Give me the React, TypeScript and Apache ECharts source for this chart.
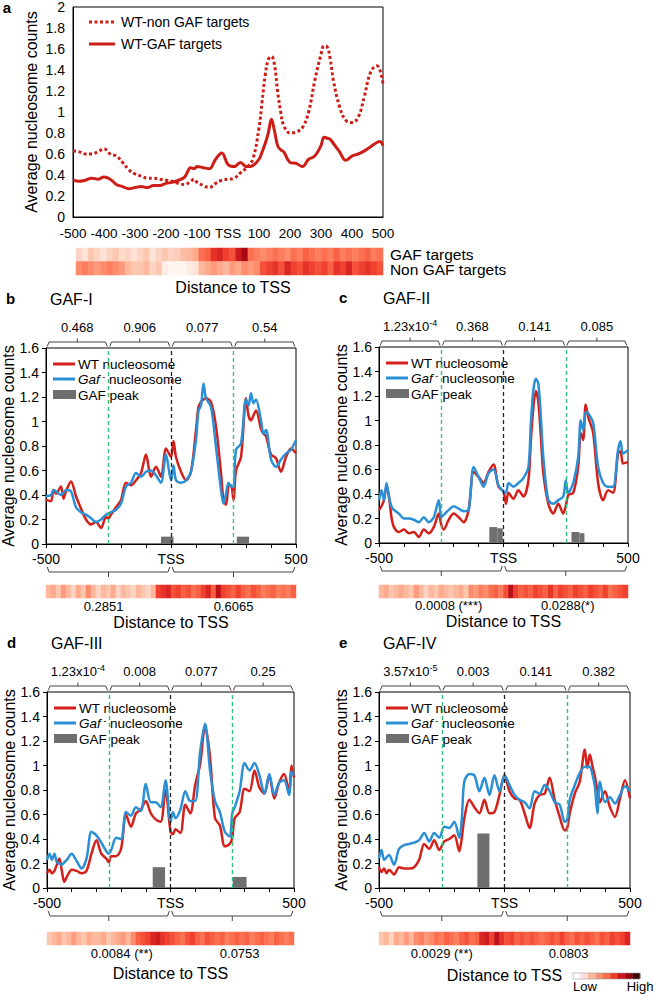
import React, { useEffect, useRef } from "react";
import * as echarts from "echarts";

// ---------- Panel a ----------
const aX = [-500,-480,-460,-440,-420,-400,-380,-360,-340,-320,-300,-280,-260,-240,-220,-200,-180,-160,-140,-120,-110,-100,-80,-60,-40,-20,0,20,40,60,80,100,110,120,130,140,150,160,170,180,200,220,240,260,280,300,310,320,330,340,360,380,400,420,440,460,480,490,500];
const aNonGaf = [0.63,0.62,0.60,0.60,0.62,0.65,0.60,0.58,0.52,0.45,0.41,0.39,0.37,0.37,0.36,0.35,0.34,0.32,0.31,0.34,0.36,0.33,0.30,0.28,0.32,0.35,0.36,0.37,0.42,0.47,0.55,0.85,1.10,1.35,1.50,1.53,1.45,1.20,1.00,0.87,0.80,0.81,0.85,1.00,1.30,1.55,1.63,1.62,1.50,1.30,1.05,0.92,0.90,0.95,1.15,1.38,1.44,1.40,1.27];
const aGaf = [0.35,0.34,0.35,0.37,0.36,0.38,0.36,0.31,0.29,0.27,0.28,0.29,0.28,0.30,0.30,0.32,0.33,0.35,0.38,0.47,0.46,0.48,0.47,0.46,0.55,0.61,0.50,0.48,0.52,0.48,0.49,0.55,0.62,0.70,0.80,0.93,0.82,0.68,0.64,0.62,0.52,0.51,0.48,0.55,0.58,0.68,0.76,0.75,0.74,0.70,0.62,0.54,0.58,0.60,0.63,0.67,0.71,0.72,0.68];
const heatAGaf = [0.2,0.15,0.25,0.2,0.15,0.2,0.25,0.18,0.2,0.15,0.2,0.25,0.15,0.2,0.25,0.2,0.22,0.28,0.3,0.35,0.55,0.6,0.75,0.8,0.7,0.65,0.85,0.95,0.55,0.5,0.45,0.5,0.55,0.5,0.45,0.55,0.5,0.6,0.55,0.5,0.55,0.5,0.6,0.5,0.55,0.5,0.55,0.6,0.5,0.55];
const heatANon = [0.45,0.5,0.45,0.4,0.45,0.5,0.45,0.4,0.3,0.25,0.25,0.3,0.2,0.25,0.1,0.05,0.05,0.05,0.1,0.15,0.3,0.35,0.4,0.35,0.3,0.4,0.35,0.45,0.4,0.45,0.65,0.7,0.75,0.65,0.8,0.7,0.65,0.75,0.7,0.65,0.7,0.6,0.75,0.7,0.8,0.65,0.7,0.75,0.7,0.65];
const aXTicks = ["-500","-400","-300","-200","-100","TSS","100","200","300","400","500"];

// ---------- Panel b (GAF-I) ----------
const bX = [-500,-480,-470,-460,-440,-430,-420,-400,-380,-360,-340,-320,-300,-280,-260,-250,-240,-220,-200,-180,-160,-140,-120,-100,-80,-60,-40,-20,0,10,20,40,60,80,100,110,120,130,140,160,180,200,210,220,230,240,250,260,280,300,310,320,330,340,360,370,380,400,420,440,460,480,500];
const bWT = [0.36,0.35,0.44,0.41,0.47,0.37,0.43,0.51,0.39,0.29,0.20,0.16,0.18,0.13,0.22,0.21,0.24,0.30,0.36,0.50,0.48,0.52,0.58,0.73,0.55,0.63,0.55,0.78,0.71,0.84,0.71,0.59,0.52,0.59,0.93,1.12,1.16,1.18,1.19,1.16,0.96,0.58,0.36,0.32,0.47,0.48,0.36,0.60,0.71,1.19,1.05,1.01,1.05,1.09,0.94,0.90,0.88,0.73,0.70,0.59,0.71,0.78,0.74];
const bGaf = [0.39,0.40,0.44,0.43,0.40,0.42,0.44,0.43,0.30,0.26,0.24,0.21,0.18,0.20,0.24,0.25,0.26,0.28,0.33,0.47,0.50,0.58,0.55,0.59,0.60,0.56,0.50,0.73,0.52,0.64,0.52,0.50,0.52,0.59,0.85,1.09,1.13,1.31,1.19,1.12,0.79,0.44,0.33,0.41,0.50,0.47,0.47,0.77,0.82,1.18,1.13,1.23,1.15,1.18,1.01,0.90,0.93,0.69,0.63,0.69,0.74,0.77,0.85];
const bPeaks = [[-40,10,0.06],[263,312,0.06]];
const bTopP = [["0.468"],["0.906"],["0.077"],["0.54"]];
const bBotP = ["0.2851","0.6065"];
const bBotPX = [-270,250];
const heatB = [0.3,0.35,0.25,0.4,0.3,0.2,0.35,0.25,0.45,0.3,0.2,0.3,0.25,0.35,0.2,0.3,0.25,0.2,0.3,0.25,0.2,0.3,0.7,0.75,0.8,0.65,0.7,0.6,0.65,0.55,0.6,0.7,0.8,0.6,0.9,0.7,0.65,0.6,0.7,0.6,0.55,0.65,0.6,0.5,0.55,0.6,0.5,0.55,0.5,0.6];

// ---------- Panel c (GAF-II) ----------
const cX = [-500,-490,-480,-470,-460,-450,-440,-420,-400,-380,-360,-340,-320,-300,-280,-260,-250,-240,-220,-200,-180,-160,-140,-120,-100,-80,-60,-40,-20,0,10,20,40,60,80,100,110,120,130,140,150,160,180,200,220,240,250,260,280,300,310,320,330,340,360,380,400,420,440,460,470,480,500];
const cWT = [0.27,0.30,0.35,0.46,0.38,0.21,0.13,0.09,0.11,0.08,0.09,0.05,0.11,0.08,0.13,0.24,0.15,0.11,0.19,0.24,0.21,0.17,0.27,0.58,0.54,0.49,0.58,0.64,0.46,0.42,0.32,0.41,0.36,0.43,0.38,0.51,0.84,1.11,1.24,1.15,0.87,0.57,0.32,0.24,0.32,0.24,0.30,0.39,0.41,0.62,0.90,0.84,1.13,1.03,0.90,0.49,0.35,0.43,0.41,0.73,0.75,0.65,0.66];
const cGaf = [0.35,0.43,0.35,0.49,0.38,0.30,0.27,0.24,0.20,0.20,0.19,0.17,0.21,0.17,0.21,0.35,0.21,0.23,0.27,0.30,0.28,0.26,0.27,0.62,0.54,0.46,0.57,0.60,0.47,0.42,0.41,0.49,0.46,0.49,0.53,0.62,0.98,1.25,1.34,1.30,1.03,0.70,0.35,0.32,0.35,0.38,0.51,0.41,0.49,0.70,1.00,0.92,1.07,1.06,0.98,0.62,0.49,0.46,0.46,0.76,0.83,0.73,0.76];
const cPeaks = [[-57,-25,0.13],[-25,-3,0.12],[273,305,0.09],[305,325,0.08]];
const cTopP = [["1.23x10","-4"],["0.368"],["0.141"],["0.085"]];
const cBotP = ["0.0008 (***)","0.0288(*)"];
const cBotPX = [-220,258];
const heatC = [0.3,0.35,0.25,0.3,0.35,0.3,0.25,0.4,0.3,0.2,0.3,0.25,0.35,0.3,0.25,0.3,0.35,0.25,0.45,0.4,0.5,0.45,0.55,0.6,0.5,0.65,0.9,0.7,0.6,0.65,0.6,0.7,0.65,0.6,0.75,0.6,0.7,0.65,0.6,0.7,0.65,0.6,0.7,0.65,0.6,0.7,0.55,0.6,0.65,0.7];

// ---------- Panel d (GAF-III) ----------
const dX = [-500,-490,-480,-470,-460,-450,-440,-430,-420,-400,-380,-360,-340,-320,-300,-280,-260,-250,-240,-220,-200,-180,-160,-140,-120,-100,-80,-60,-40,-20,0,10,20,40,60,80,100,120,140,160,180,200,220,240,250,260,280,300,320,340,360,380,400,420,440,460,480,490,500];
const dWT = [0.12,0.15,0.12,0.14,0.19,0.24,0.14,0.05,0.09,0.15,0.14,0.12,0.14,0.28,0.39,0.28,0.24,0.21,0.26,0.26,0.32,0.60,0.50,0.61,0.64,0.71,0.61,0.56,0.54,0.80,0.46,0.44,0.48,0.45,0.68,0.61,0.84,1.01,1.32,1.07,0.57,0.51,0.34,0.36,0.41,0.57,0.62,0.81,0.79,0.96,0.82,0.77,0.92,0.73,0.86,0.93,0.79,1.00,0.90];
const dGaf = [0.23,0.28,0.23,0.28,0.21,0.20,0.19,0.21,0.23,0.28,0.22,0.16,0.24,0.46,0.43,0.37,0.30,0.28,0.31,0.41,0.40,0.62,0.59,0.66,0.63,0.85,0.70,0.70,0.66,0.88,0.54,0.62,0.57,0.64,0.79,0.71,0.71,1.11,1.34,0.96,0.71,0.62,0.46,0.42,0.61,0.66,0.79,1.02,0.96,1.02,0.92,0.77,0.93,0.76,0.86,0.88,0.76,0.95,0.92];
const dPeaks = [[-72,-22,0.17],[252,308,0.09]];
const dTopP = [["1.23x10","-4"],["0.008"],["0.077"],["0.25"]];
const dBotP = ["0.0084 (**)","0.0753"];
const dBotPX = [-197,280];
const heatD = [0.25,0.3,0.35,0.25,0.3,0.4,0.3,0.25,0.35,0.3,0.3,0.35,0.25,0.3,0.35,0.4,0.3,0.45,0.6,0.65,0.7,0.8,0.85,0.75,0.7,0.65,0.6,0.55,0.65,0.7,0.6,0.55,0.65,0.6,0.55,0.6,0.5,0.55,0.6,0.55,0.6,0.5,0.55,0.6,0.55,0.5,0.6,0.55,0.5,0.55];

// ---------- Panel e (GAF-IV) ----------
const eX = [-500,-490,-480,-470,-460,-440,-420,-400,-380,-360,-340,-320,-300,-280,-260,-240,-220,-200,-180,-170,-160,-140,-120,-100,-80,-60,-40,-20,0,20,40,60,80,100,120,140,160,180,200,220,240,250,260,280,300,320,330,340,350,360,370,380,400,420,440,460,480,500];
const eWT = [0.17,0.13,0.16,0.12,0.15,0.11,0.17,0.16,0.16,0.17,0.23,0.36,0.32,0.39,0.31,0.38,0.40,0.43,0.30,0.41,0.57,0.72,0.66,0.61,0.72,0.61,0.62,0.76,0.92,0.79,0.73,0.72,0.61,0.49,0.69,0.76,0.77,0.90,0.72,0.58,0.47,0.49,0.61,0.77,0.87,1.13,0.98,1.09,1.00,0.91,0.80,0.70,0.79,0.66,0.58,0.73,0.88,0.73];
const eGaf = [0.24,0.31,0.23,0.25,0.27,0.19,0.32,0.35,0.36,0.37,0.39,0.45,0.38,0.45,0.41,0.50,0.49,0.54,0.41,0.57,0.87,0.93,0.92,0.79,0.90,0.76,0.92,0.79,0.92,0.84,0.76,0.72,0.70,0.65,0.79,0.77,0.84,0.79,0.70,0.68,0.54,0.56,0.72,0.84,0.94,0.99,0.99,0.99,0.93,0.83,0.61,0.87,0.70,0.74,0.69,0.76,0.83,0.79];
const ePeaks = [[-108,-60,0.445]];
const eTopP = [["3.57x10","-5"],["0.003"],["0.141"],["0.382"]];
const eBotP = ["0.0029 (**)","0.0803"];
const eBotPX = [-250,255];
const heatE = [0.25,0.3,0.2,0.35,0.3,0.4,0.3,0.45,0.5,0.4,0.45,0.55,0.5,0.6,0.55,0.5,0.6,0.65,0.55,0.6,0.8,0.85,0.7,0.9,0.75,0.65,0.7,0.6,0.65,0.6,0.65,0.6,0.55,0.6,0.65,0.6,0.7,0.6,0.55,0.65,0.6,0.65,0.6,0.55,0.65,0.6,0.7,0.65,0.7,0.8];

const legendColors = ["#ffffff","#fde0d6","#fcbba1","#fc9272","#fb6a4a","#ef3b2c","#cb181d","#99000d","#3a0606"];

// ---------- styling ----------
const FONT = '"Liberation Sans", Arial, Helvetica, sans-serif';
const RED = "#d3201b";
const BLUE = "#2a8fd4";
const GREEN = "#33c47a";
const GRAY = "#6f6f6f";
const HEAT_COLORS = ["#ffffff","#fee5d9","#fcbba1","#fc9272","#fb6a4a","#ef3b2c","#cb181d","#99000d"];

const GRIDS = [
  { left: 73, top: 7, width: 310, height: 210 },
  { left: 46, top: 348, width: 250, height: 196 },
  { left: 379, top: 347, width: 249, height: 196 },
  { left: 47, top: 692, width: 247, height: 196 },
  { left: 379, top: 692, width: 251, height: 196 },
  { left: 76, top: 248, width: 307, height: 13.5 },
  { left: 76, top: 261.5, width: 307, height: 13.5 },
  { left: 46, top: 585, width: 250, height: 13 },
  { left: 379, top: 585, width: 249, height: 13 },
  { left: 47, top: 932, width: 247, height: 13 },
  { left: 379, top: 932, width: 251, height: 13 },
];

const PANELS = [
  { x: bX, wt: bWT, gaf: bGaf, peaks: bPeaks, topP: bTopP, botP: bBotP, botPX: bBotPX, heat: heatB, letter: "b", title: "GAF-I", botOff: [62, 78] },
  { x: cX, wt: cWT, gaf: cGaf, peaks: cPeaks, topP: cTopP, botP: cBotP, botPX: cBotPX, heat: heatC, letter: "c", title: "GAF-II", botOff: [62, 78] },
  { x: dX, wt: dWT, gaf: dGaf, peaks: dPeaks, topP: dTopP, botP: dBotP, botPX: dBotPX, heat: heatD, letter: "d", title: "GAF-III", botOff: [65, 85] },
  { x: eX, wt: eWT, gaf: eGaf, peaks: ePeaks, topP: eTopP, botP: eBotP, botPX: eBotPX, heat: heatE, letter: "e", title: "GAF-IV", botOff: [65, 87] },
];

const zip = (xs: number[], ys: number[]) => xs.map((x, i) => [x, ys[i]]);

function buildOption(): any {
  const xAxes: any[] = [];
  const yAxes: any[] = [];
  const series: any[] = [];
  const axisFont = { fontFamily: FONT, fontSize: 14, color: "#000" };

  xAxes.push({
    type: "value", gridIndex: 0, min: -500, max: 500, interval: 100,
    axisLine: { show: true, onZero: false, lineStyle: { color: "#000", width: 1 } },
    axisTick: { show: false }, splitLine: { show: false },
    axisLabel: { ...axisFont, fontSize: 13.5, margin: 9, formatter: (v: number) => aXTicks[Math.round((v + 500) / 100)] },
  });
  yAxes.push({
    type: "value", gridIndex: 0, min: 0, max: 2, interval: 0.2,
    axisLine: { show: true, onZero: false, lineStyle: { color: "#000", width: 1 } },
    axisTick: { show: false }, splitLine: { show: false },
    axisLabel: { ...axisFont, margin: 8 },
  });
  for (let p = 0; p < 4; p++) {
    xAxes.push({
      type: "value", gridIndex: p + 1, min: -500, max: 500, interval: 100,
      axisLine: { show: true, onZero: false, lineStyle: { color: "#000", width: 1 } },
      axisTick: { show: true, inside: false, length: 4, lineStyle: { color: "#000" } },
      splitLine: { show: false },
      axisLabel: { ...axisFont, margin: 8, formatter: (v: number) => (v === 0 ? "TSS" : Math.abs(v) === 500 ? String(v) : "") },
    });
    yAxes.push({
      type: "value", gridIndex: p + 1, min: 0, max: 1.6, interval: 0.2,
      axisLine: { show: true, onZero: false, lineStyle: { color: "#000", width: 1 } },
      axisTick: { show: true, inside: false, length: 4, lineStyle: { color: "#000" } },
      splitLine: { show: false },
      axisLabel: { ...axisFont, margin: 7 },
    });
  }
  const heats = [heatAGaf, heatANon, heatB, heatC, heatD, heatE];
  heats.forEach((h, k) => {
    xAxes.push({ type: "category", gridIndex: 5 + k, data: h.map((_, i) => i), show: false });
    yAxes.push({ type: "category", gridIndex: 5 + k, data: ["r"], show: false });
  });

  series.push({
    type: "line", xAxisIndex: 0, yAxisIndex: 0, data: zip(aX, aNonGaf), showSymbol: false, smooth: 0.4,
    lineStyle: { color: "#cc1d17", width: 3, type: [3, 2.5] }, silent: true,
  });
  series.push({
    type: "line", xAxisIndex: 0, yAxisIndex: 0, data: zip(aX, aGaf), showSymbol: false, smooth: 0.4,
    lineStyle: { color: "#cc1d17", width: 3 }, silent: true,
  });

  PANELS.forEach((P, p) => {
    const gi = p + 1;
    series.push({
      type: "custom", xAxisIndex: gi, yAxisIndex: gi, data: P.peaks, silent: true,
      renderItem: (_params: any, api: any) => {
        const p0 = api.coord([api.value(0), api.value(2)]);
        const p1 = api.coord([api.value(1), 0]);
        return { type: "rect", shape: { x: p0[0], y: p0[1], width: p1[0] - p0[0], height: p1[1] - p0[1] }, style: { fill: GRAY } };
      },
      markLine: {
        silent: true, symbol: ["none", "none"], label: { show: false },
        data: [
          { xAxis: -250, lineStyle: { color: GREEN, type: [4, 3], width: 1.4 } },
          { xAxis: 0, lineStyle: { color: "#222", type: [4, 3], width: 1.3 } },
          { xAxis: 250, lineStyle: { color: GREEN, type: [4, 3], width: 1.4 } },
        ],
      },
    });
    series.push({
      type: "line", xAxisIndex: gi, yAxisIndex: gi, data: zip(P.x, P.wt), showSymbol: false, smooth: 0.3,
      lineStyle: { color: RED, width: 2.5 }, silent: true,
    });
    series.push({
      type: "line", xAxisIndex: gi, yAxisIndex: gi, data: zip(P.x, P.gaf), showSymbol: false, smooth: 0.3,
      lineStyle: { color: BLUE, width: 2.5 }, silent: true,
    });
  });

  const heatIdx: number[] = [];
  heats.forEach((h, k) => {
    heatIdx.push(series.length);
    series.push({
      type: "heatmap", xAxisIndex: 5 + k, yAxisIndex: 5 + k, silent: true,
      data: h.map((v, i) => [i, 0, v]),
    });
  });

  return {
    animation: false,
    backgroundColor: "#ffffff",
    textStyle: { fontFamily: FONT },
    grid: GRIDS.map((g, i) => ({ ...g, show: i < 5, borderColor: "#000", borderWidth: 1, backgroundColor: "transparent" })),
    xAxis: xAxes,
    yAxis: yAxes,
    visualMap: { type: "continuous", min: 0, max: 1, show: false, seriesIndex: heatIdx, inRange: { color: HEAT_COLORS } },
    series,
  };
}

function buildGraphic(chart: any): any[] {
  const g: any[] = [];
  const px = (gi: number, x: number, y: number) => chart.convertToPixel({ gridIndex: gi }, [x, y]) as number[];
  const text = (x: number, y: number, t: string, size = 14, extra: any = {}) => ({
    type: "text", x, y, silent: true,
    style: { text: t, fontFamily: FONT, fontSize: size, fill: "#000", align: "center", verticalAlign: "middle", ...extra },
  });
  const line = (pts: number[][], color = "#444", width = 1, dash?: number[]) => ({
    type: "polyline", silent: true, shape: { points: pts },
    style: { stroke: color, lineWidth: width, fill: null, lineDash: dash },
  });

  // ----- panel a -----
  const aTL = px(0, -500, 2);
  const aBR = px(0, 500, 0);
  g.push(text(7, 7, "a", 15, { fontWeight: "bold" }));
  g.push({ ...text(31, (aTL[1] + aBR[1]) / 2, "Average nucleosome counts", 16), rotation: Math.PI / 2 });
  g.push(line([[aTL[0] + 16, aTL[1] + 15], [aTL[0] + 42, aTL[1] + 15]], "#cc1d17", 3, [3, 2.5]));
  g.push(text(aTL[0] + 48, aTL[1] + 15, "WT-non GAF targets", 14, { align: "left" }));
  g.push(line([[aTL[0] + 16, aTL[1] + 37], [aTL[0] + 42, aTL[1] + 37]], "#cc1d17", 3));
  g.push(text(aTL[0] + 48, aTL[1] + 37, "WT-GAF targets", 14, { align: "left" }));
  const hA1 = px(5, 49, 0);
  const hA2 = px(6, 49, 0);
  g.push(text(hA1[0] + 10, hA1[1] - 0.5, "GAF targets", 15.5, { align: "left", lineHeight: 14 }));
  g.push(text(hA2[0] + 10, hA2[1] + 1.5, "Non GAF targets", 15.5, { align: "left", lineHeight: 14 }));
  g.push(text((aTL[0] + aBR[0]) / 2 + 5, 287, "Distance to TSS", 16));

  const supStyle = { fontFamily: FONT, fontSize: 9, lineHeight: 8, verticalAlign: "top", fill: "#000" };
  const numStyle = { fontFamily: FONT, fontSize: 13, lineHeight: 15, fill: "#000" };

  PANELS.forEach((P, p) => {
    const gi = p + 1;
    const TL = px(gi, -500, 1.6);
    const BR = px(gi, 500, 0);
    const L = TL[0], T = TL[1], B = BR[1];
    const midX = (L + BR[0]) / 2;
    g.push(text(L - 40, T - 50, P.letter, 15, { fontWeight: "bold", align: "left" }));
    g.push(text(L + 4, T - 49, P.title, 16, { align: "left" }));
    g.push({ ...text(L - 38, (T + B) / 2, "Average nucleosome counts", 16), rotation: Math.PI / 2 });

    const bounds = [-500, -250, 0, 250, 500];
    for (let s = 0; s < 4; s++) {
      const x0 = px(gi, bounds[s], 0)[0];
      const x1 = px(gi, bounds[s + 1], 0)[0];
      const xm = (x0 + x1) / 2;
      g.push(line([[x0 + 1.2, T - 1.5], [x0 + 3, T - 6], [x1 - 3, T - 6], [x1 - 1.2, T - 1.5]], "#444", 1));
      g.push(line([[xm, T - 6], [xm, T - 9.5]], "#444", 1));
      const parts = P.topP[s];
      if (parts.length > 1) {
        g.push({
          type: "text", x: xm, y: T - 21, silent: true,
          style: { text: "{n|" + parts[0] + "}{s|" + parts[1] + "}", rich: { n: numStyle, s: supStyle }, align: "center", verticalAlign: "middle" },
        });
      } else {
        g.push(text(xm, T - 21, parts[0], 13));
      }
    }
    const halves = [[-500, 0], [0, 500]];
    halves.forEach(([a0, a1]) => {
      const x0 = px(gi, a0, 0)[0];
      const x1 = px(gi, a1, 0)[0];
      const xm = (x0 + x1) / 2;
      g.push(line([[x0 + 1.2, B + 23], [x0 + 3, B + 28], [x1 - 3, B + 28], [x1 - 1.2, B + 23]], "#444", 1));
      g.push(line([[xm, B + 28], [xm, B + 33]], "#444", 1));
    });
    P.botP.forEach((t, k) => {
      g.push(text(px(gi, P.botPX[k], 0)[0], B + P.botOff[0], t, 13));
    });
    g.push(text(midX, B + P.botOff[1], "Distance to TSS", 16));

    // legend
    g.push(line([[L + 7, T + 16], [L + 29, T + 16]], RED, 3));
    g.push(text(L + 32, T + 16, "WT nucleosome", 13.5, { align: "left" }));
    g.push(line([[L + 7, T + 31], [L + 29, T + 31]], BLUE, 3));
    g.push({
      type: "text", x: L + 32, y: T + 31.5, silent: true,
      style: {
        text: "{i|Gaf}{s| -}{n| nucleosome}", align: "left", verticalAlign: "middle",
        rich: {
          i: { fontFamily: FONT, fontSize: 13.5, fontStyle: "italic", lineHeight: 14, fill: "#000" },
          n: { fontFamily: FONT, fontSize: 13.5, lineHeight: 14, fill: "#000" },
          s: { fontFamily: FONT, fontSize: 9, lineHeight: 7, verticalAlign: "top", fill: "#000" },
        },
      },
    });
    g.push({ type: "rect", silent: true, shape: { x: L + 7, y: T + 42, width: 23, height: 9 }, style: { fill: GRAY } });
    g.push(text(L + 32, T + 47, "GAF peak", 13.5, { align: "left" }));
  });

  const cx0 = 573, cw = 67 / legendColors.length;
  legendColors.forEach((c, i) => {
    g.push({ type: "rect", silent: true, shape: { x: cx0 + i * cw, y: 973, width: cw + 0.3, height: 6 }, style: { fill: c } });
  });
  g.push({ type: "rect", silent: true, shape: { x: cx0, y: 973, width: 67, height: 6 }, style: { fill: null, stroke: "#999", lineWidth: 0.6 } });
  g.push(text(585, 986, "Low", 13));
  g.push(text(640, 986, "High", 13));

  return g;
}

export default function App() {
  const ref = useRef<HTMLDivElement>(null);
  useEffect(() => {
    const chart = echarts.init(ref.current!, null, { renderer: "svg", width: 656, height: 994 });
    chart.setOption(buildOption());
    chart.setOption({ graphic: buildGraphic(chart) });
    return () => chart.dispose();
  }, []);
  return (
    <div
      ref={ref}
      style={{ position: "fixed", left: 0, top: 0, width: 656, height: 994, background: "#fff" }}
    />
  );
}
